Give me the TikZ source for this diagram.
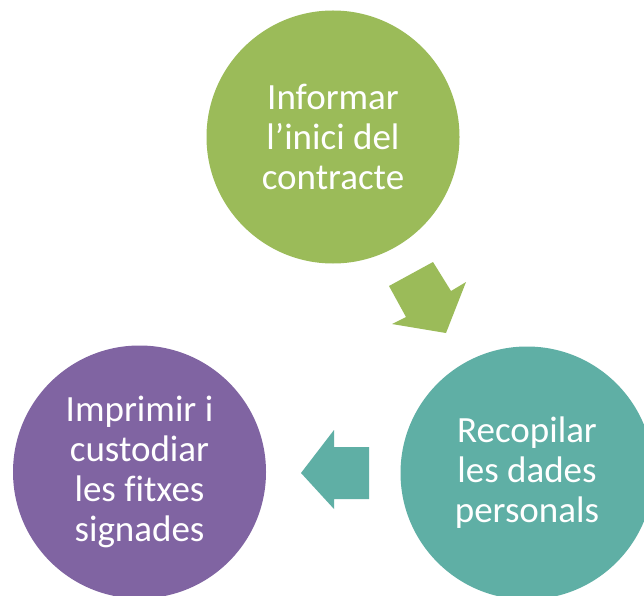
\documentclass[tikz,border=0pt]{standalone}
\usepackage{fontspec}
\setmainfont[Ligatures=NoCommon]{Carlito}
\definecolor{cgreen}{HTML}{9BBB59}
\definecolor{cteal}{HTML}{5FAFA5}
\definecolor{cpurple}{HTML}{8064A2}
\begin{document}
\begin{tikzpicture}[x=1pt,y=1pt,
  stepcircle/.style={circle,minimum size=253pt,inner sep=0pt,text=white,align=center,
    font=\fontsize{37}{40}\selectfont}]
\clip (0,0) rectangle (644,595);
\fill[white] (0,0) rectangle (644,595);
\node[stepcircle,fill=cgreen] (a) at (333,458) {Informar\\l’inici del\\contracte};
\node[stepcircle,fill=cteal] (b) at (527,122) {Recopilar\\les dades\\personals};
\node[stepcircle,fill=cpurple] (c) at (139.5,123) {Imprimir i\\custodiar\\les fitxes\\signades};
\fill[cgreen] (433,333) -- (451,304) -- (466,313) -- (446,262) -- (392,271) -- (406,278) -- (389,309) -- cycle;
\fill[cteal] (301,122) -- (334,165) -- (334,148) -- (369,148) -- (369,96) -- (334,96) -- (334,86) -- cycle;
\end{tikzpicture}
\end{document}
